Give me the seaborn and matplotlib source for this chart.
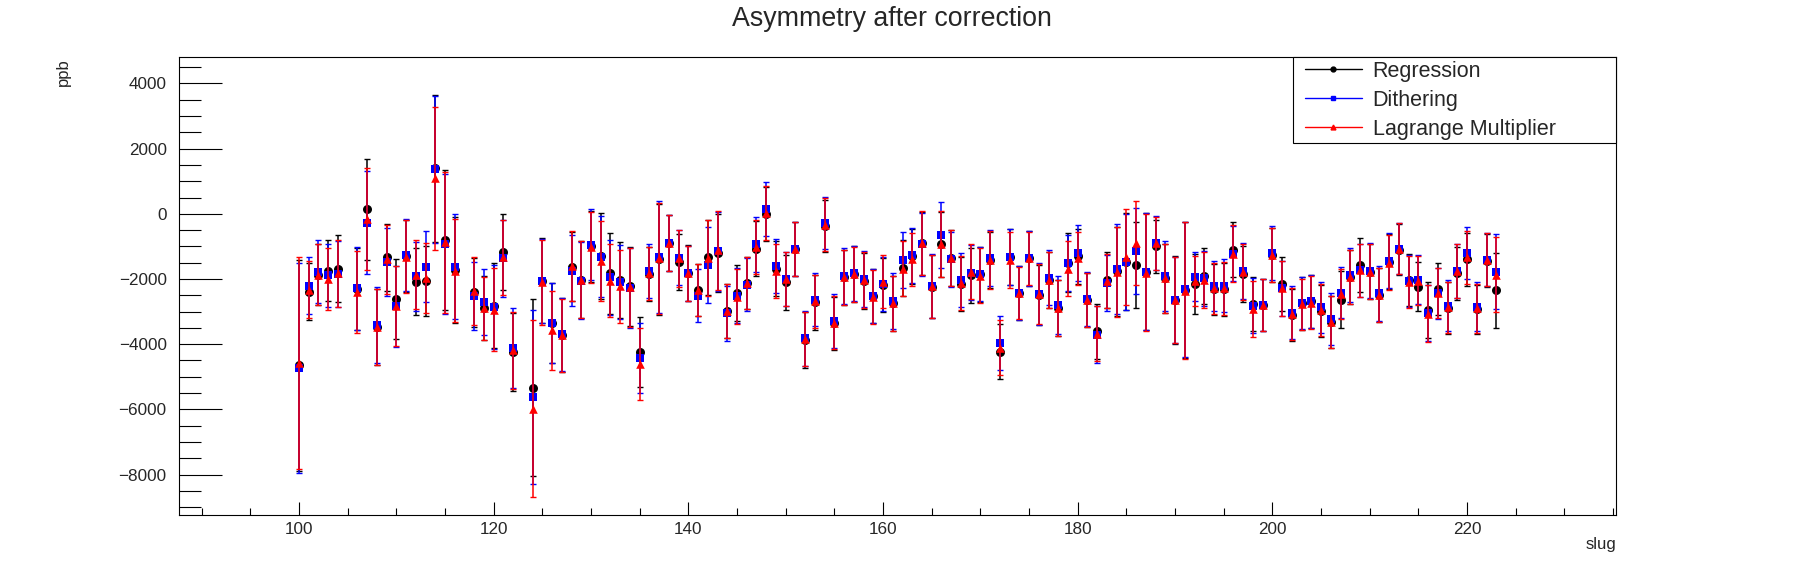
import numpy as np
import pandas as pd
import seaborn as sns
import matplotlib
matplotlib.use('Agg')
import matplotlib.pyplot as plt
from matplotlib.ticker import MultipleLocator
from matplotlib.lines import Line2D
from matplotlib.patches import Rectangle

slugs = [100, 101, 102, 103, 104,
         106, 107, 108, 109, 110, 111, 112, 113, 114, 115, 116,
         118, 119, 120, 121, 122,
         124, 125, 126, 127, 128, 129, 130, 131, 132, 133, 134, 135,
         136, 137, 138, 139, 140, 141, 142, 143, 144, 145, 146, 147, 148, 149, 150, 151, 152, 153, 154,
         155, 156, 157, 158, 159, 160, 161, 162, 163, 164, 165, 166, 167, 168, 169, 170, 171, 172, 173, 174,
         175, 176, 177, 178, 179, 180, 181, 182, 183, 184, 185, 186, 187, 188, 189, 190, 191, 192, 193,
         194, 195, 196, 197, 198, 199, 200, 201, 202, 203, 204, 205, 206, 207, 208, 209, 210, 211, 212, 213,
         214, 215, 216, 217, 218, 219, 220, 221, 222, 223]

regression = [-4650, -2390, -1870, -1740, -1690,
              -2300, 140, -3480, -1340, -2610, -1290, -2080, -2050, 1400, -800, -1720,
              -2410, -2890, -2820, -1180, -4240,
              -5330, -2050, -3350, -3710, -1620, -2020, -1000, -1290, -1820, -2030, -2230, -4240,
              -1850, -1400, -890, -1470, -1810, -2340, -1340, -1200, -2970, -2420, -2120, -1070, -10, -1680, -2100, -1070, -3870, -2720, -380,
              -3360, -1950, -1850, -2060, -2510, -2190, -2750, -1660, -1300, -910, -2240, -940, -1350, -2140, -1880, -1860, -1420, -4230, -1320, -2440,
              -1370, -2490, -2030, -2900, -1500, -1300, -2640, -3610, -2030, -1760, -1470, -1560, -1780, -1000, -1980, -2640, -2340, -2140, -1910,
              -2320, -2320, -1100, -1850, -2780, -2800, -1270, -2140, -3100, -2750, -2680, -2970, -3310, -2640, -1930, -1580, -1780, -2490, -1470, -1100,
              -2030, -2240, -2960, -2310, -2890, -1830, -1390, -2930, -1440, -2340]

dithering = [-4720, -2200, -1780, -1890, -1850,
             -2290, -270, -3400, -1490, -2840, -1270, -1920, -1620, 1360, -930, -1620,
             -2530, -2710, -2850, -1370, -4120,
             -5620, -2050, -3350, -3700, -1740, -2050, -950, -1310, -1950, -2100, -2270, -4420,
             -1760, -1320, -890, -1350, -1830, -2510, -1560, -1150, -3050, -2510, -2170, -940, 160, -1610, -2000, -1070, -3820, -2640, -280,
             -3290, -1910, -1830, -2000, -2510, -2140, -2680, -1420, -1270, -940, -2220, -660, -1400, -2030, -1810, -1850, -1350, -3960, -1320, -2420,
             -1370, -2460, -1960, -2800, -1500, -1200, -2610, -3710, -2110, -1700, -1470, -1140, -1780, -890, -1910, -2640, -2320, -1930, -1980,
             -2220, -2210, -1220, -1750, -2820, -2800, -1200, -2290, -3030, -2730, -2680, -2870, -3240, -2420, -1880, -1730, -1750, -2440, -1440, -1070,
             -2070, -2020, -3030, -2440, -2820, -1750, -1210, -2850, -1410, -1770]

lagrange = [-4580, -2330, -1870, -2000, -1830,
            -2410, -160, -3460, -1390, -2820, -1310, -1870, -1970, 1090, -880, -1740,
            -2360, -2900, -2940, -1340, -4190,
            -5980, -2100, -3580, -3730, -1610, -2020, -1030, -1440, -2050, -2230, -2250, -4600,
            -1830, -1370, -890, -1370, -1830, -2340, -1350, -1120, -2980, -2540, -2120, -1020, 20, -1760, -2010, -1070, -3840, -2680, -330,
            -3340, -1950, -1850, -2030, -2540, -2080, -2750, -1680, -1400, -890, -2220, -930, -1350, -2120, -1780, -1900, -1420, -4110, -1420, -2440,
            -1370, -2460, -2030, -2900, -1680, -1370, -2640, -3680, -2060, -1780, -1320, -890, -1810, -910, -1980, -2640, -2360, -2060, -2030,
            -2290, -2290, -1220, -1780, -2920, -2800, -1270, -2290, -3070, -2780, -2730, -2950, -3310, -2460, -1950, -1730, -1780, -2490, -1500, -1070,
            -2100, -2050, -3060, -2430, -2870, -1750, -1340, -2900, -1410, -1870]

err_regression = [3240, 870, 940, 950, 1025,
                  1250, 1545, 1165, 1030, 1225, 1110, 1035, 1075, 2260, 2150, 1620,
                  1055, 985, 1300, 1160, 1200,
                  2720, 1295, 1225, 1130, 1070, 1190, 1085, 1310, 1240, 1165, 1210, 1080,
                  830, 1710, 865, 855, 850, 810, 1160, 1200, 830, 855, 805, 840, 830, 840, 840, 830, 850, 850, 800,
                  820, 850, 850, 850, 830, 830, 850, 865, 840, 970, 965, 1005, 850, 830, 845, 850, 860, 850, 865, 830,
                  830, 920, 845, 855, 900, 840, 830, 840, 850, 1370, 1480, 1318, 1800, 810, 1060, 1340, 2090, 920, 855,
                  790, 815, 850, 855, 830, 790, 825, 830, 800, 800, 815, 800, 800, 875, 825, 825, 840, 840, 840, 790,
                  800, 755, 856, 800, 785, 820, 810, 750, 810, 1150]

err_dithering = [3220, 870, 970, 965, 1020,
                 1275, 1570, 1165, 1045, 1235, 1110, 1050, 1090, 2245, 2150, 1620,
                 1045, 1005, 1290, 1170, 1225,
                 2680, 1290, 1215, 1130, 1090, 1180, 1090, 1250, 1150, 1140, 1230, 1080,
                 830, 1710, 855, 840, 850, 810, 1170, 1210, 840, 850, 805, 840, 830, 830, 840, 830, 850, 815, 800,
                 820, 850, 855, 850, 830, 830, 850, 855, 840, 970, 990, 1008, 850, 830, 845, 840, 860, 820, 865, 830,
                 840, 950, 845, 880, 860, 850, 830, 870, 860, 1375, 1476, 1308, 1800, 820, 1070, 1330, 2080, 760, 850,
                 775, 810, 850, 855, 850, 790, 825, 840, 800, 795, 815, 790, 800, 780, 825, 815, 840, 840, 840, 790,
                 800, 760, 860, 790, 785, 820, 805, 750, 810, 1150]

err_lagrange = [3250, 880, 935, 960, 1020,
                1260, 1560, 1165, 1055, 1230, 1120, 1055, 1065, 2190, 2150, 1590,
                1045, 975, 1280, 1160, 1190,
                2720, 1300, 1210, 1130, 1075, 1190, 1080, 1225, 1120, 1130, 1215, 1100,
                815, 1710, 855, 880, 850, 810, 1165, 1210, 840, 850, 805, 840, 830, 830, 830, 830, 830, 815, 800,
                820, 850, 845, 850, 830, 825, 850, 840, 820, 972, 967, 1008, 850, 830, 845, 840, 880, 840, 855, 800,
                825, 920, 845, 855, 850, 815, 830, 850, 830, 1374, 1466, 1298, 1792, 804, 1060, 1320, 2100, 780, 865,
                775, 815, 865, 855, 865, 790, 825, 840, 790, 795, 815, 790, 800, 780, 825, 815, 840, 840, 840, 790,
                805, 760, 866, 780, 785, 820, 810, 750, 810, 1150]

methods = ['Regression', 'Dithering', 'Lagrange Multiplier']

sns.set_theme(style='white')
plt.rcParams['font.family'] = ['Liberation Sans', 'DejaVu Sans']

df = pd.concat([
    pd.DataFrame({'slug': slugs, 'ppb': regression, 'err': err_regression, 'method': methods[0]}),
    pd.DataFrame({'slug': slugs, 'ppb': dithering, 'err': err_dithering, 'method': methods[1]}),
    pd.DataFrame({'slug': slugs, 'ppb': lagrange, 'err': err_lagrange, 'method': methods[2]}),
])

colors = {'Regression': 'black', 'Dithering': 'blue', 'Lagrange Multiplier': 'red'}
markers = {'Regression': 'o', 'Dithering': 's', 'Lagrange Multiplier': '^'}
sizes = {'Regression': 42, 'Dithering': 30, 'Lagrange Multiplier': 38}

fig = plt.figure(figsize=(17.96, 5.72), dpi=100)
ax = fig.add_axes([0.0998, 0.0997, 0.8, 0.8])

for i, m in enumerate(methods):
    sub = df[df['method'] == m]
    ax.errorbar(sub['slug'], sub['ppb'], yerr=sub['err'], fmt='none',
                ecolor=colors[m], elinewidth=1.1, capsize=2.2, capthick=1.0,
                zorder=2 + 2 * i)
    sns.scatterplot(data=sub, x='slug', y='ppb', ax=ax, color=colors[m],
                    marker=markers[m], s=sizes[m], linewidth=0,
                    legend=False, zorder=3 + 2 * i)

ax.set_xlim(87.7, 235.3)
ax.set_ylim(-9240, 4800)
ax.xaxis.set_major_locator(MultipleLocator(20))
ax.xaxis.set_minor_locator(MultipleLocator(5))
ax.yaxis.set_major_locator(MultipleLocator(2000))
ax.yaxis.set_minor_locator(MultipleLocator(500))
ax.tick_params(axis='x', which='major', direction='in', length=9.5, width=0.8,
               labelsize=12.3, pad=5, bottom=True, top=False, color='black')
ax.tick_params(axis='x', which='minor', direction='in', length=5, width=0.8,
               bottom=True, top=False, color='black')
ax.tick_params(axis='y', which='major', direction='in', length=31, width=0.8,
               labelsize=12.3, pad=9, left=True, right=False, color='black')
ax.tick_params(axis='y', which='minor', direction='in', length=16, width=0.8,
               left=True, right=False, color='black')
for sp in ax.spines.values():
    sp.set_color('black')
    sp.set_linewidth(0.8)
ax.set_xlabel('')
ax.set_ylabel('')
ax.grid(False)

fig.text(0.4967, 0.966, 'Asymmetry after correction', ha='center', va='center', fontsize=19.3)
fig.text(63 / 1796, 1 - 58 / 572, 'ppb', rotation=90, ha='center', va='top', fontsize=12)
fig.text(0.8998, 1 - 545 / 572, 'slug', ha='right', va='center', fontsize=12)

# legend box drawn separately, entries placed inside
ax.add_patch(Rectangle((0.775, 0.812), 0.225, 0.188, transform=ax.transAxes,
                       fill=True, facecolor='white', edgecolor='black',
                       linewidth=0.8, clip_on=False, zorder=10))
handles = [Line2D([], [], color=colors[m], marker=markers[m], markersize=3.5, lw=1.0)
           for m in methods]
leg = ax.legend(handles, methods, loc='upper left', bbox_to_anchor=(0.7834, 0.993),
                frameon=False, fontsize=15.5, borderpad=0, borderaxespad=0,
                handlelength=2.65, handletextpad=0.5, labelspacing=0.38)
leg.set_zorder(11)

fig.savefig('out.png', dpi=100)
